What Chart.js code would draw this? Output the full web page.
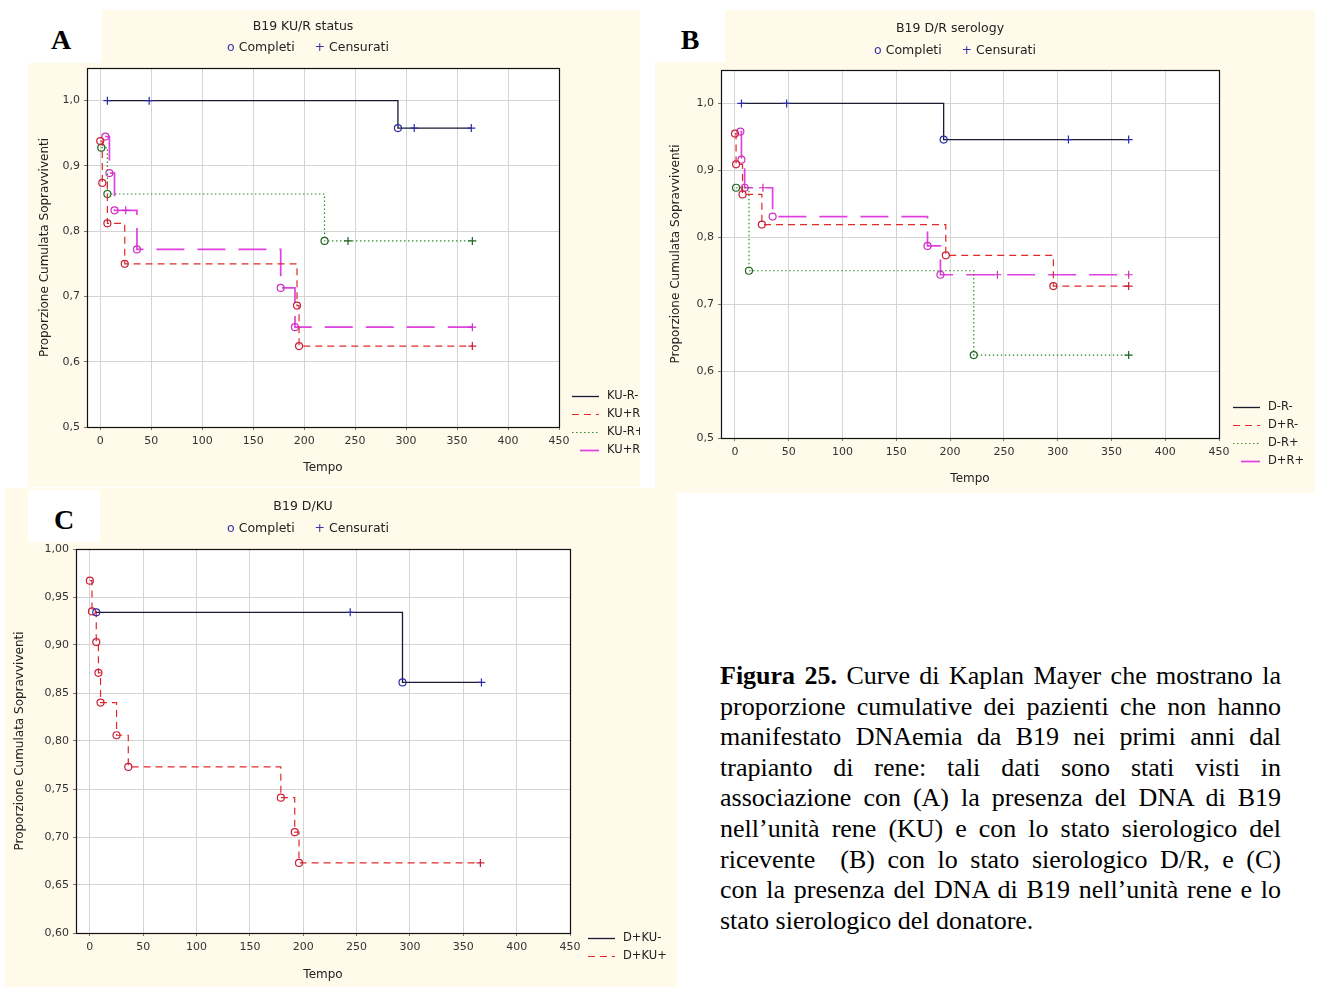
<!DOCTYPE html>
<html>
<head>
<meta charset="utf-8">
<script src="https://cdn.jsdelivr.net/npm/chart.js@4.4.1/dist/chart.umd.min.js"></script>
<style>
  body { margin: 0; background: #fff; width: 1318px; height: 987px; position: relative; overflow: hidden; }
  .panel { position: absolute; background: #fffaea; overflow: hidden; }
  .panel canvas { position: absolute; left: 0; top: 0; }
  .letter { position: absolute; background: #fff; font: bold 28px 'Liberation Serif', serif; color: #000; text-align: center; line-height: 60px; }
  .caption { position: absolute; left: 720px; top: 661px; width: 561px; font: 26px 'Liberation Serif', serif; color: #000; }
  .caption div { height: 30.6px; line-height: 30.6px; text-align: justify; text-align-last: justify; white-space: nowrap; }
  .caption div.last { text-align-last: left; }
</style>
</head>
<body>
<div class="panel" style="left:28px;top:10px;width:612px;height:477px"><canvas id="chart-a" width="612" height="477"></canvas></div>
<div class="panel" style="left:655px;top:10px;width:660px;height:483px"><canvas id="chart-b" width="660" height="483"></canvas></div>
<div class="panel" style="left:5px;top:488px;width:672px;height:499px"><canvas id="chart-c" width="672" height="499"></canvas></div>

<div class="letter" style="left:20px;top:10px;width:82px;height:53px">A</div>
<div class="letter" style="left:655px;top:10px;width:70px;height:52px">B</div>
<div class="letter" style="left:28px;top:490px;width:72px;height:52px">C</div>

<div class="caption">
  <div><b>Figura 25.</b> Curve di Kaplan Mayer che mostrano la</div>
  <div>proporzione cumulative dei pazienti che non hanno</div>
  <div>manifestato DNAemia da B19 nei primi anni dal</div>
  <div>trapianto di rene: tali dati sono stati visti in</div>
  <div>associazione con (A) la presenza del DNA di B19</div>
  <div>nell’unità rene (KU) e con lo stato sierologico del</div>
  <div>ricevente &nbsp;(B) con lo stato sierologico D/R, e (C)</div>
  <div>con la presenza del DNA di B19 nell’unità rene e lo</div>
  <div class="last">stato sierologico del donatore.</div>
</div>

<script>
// axis ticks
const xTicks = [0, 50, 100, 150, 200, 250, 300, 350, 400, 450];
const yTicksAB = [0.5, 0.6, 0.7, 0.8, 0.9, 1.0];
const yTicksC = [0.6, 0.65, 0.7, 0.75, 0.8, 0.85, 0.9, 0.95, 1.0];

// status: 1 = completo (o), 0 = censurato (+)

// A - B19 KU/R status
const labelsA = ['KU-R-', 'KU+R-', 'KU-R+', 'KU+R+'];
const timeA1 = [7, 48, 292, 308, 364];
const survA1 = [1, 1, 0.958, 0.958, 0.958];
const statA1 = [0, 0, 1, 0, 0];
const timeA2 = [0, 2, 7, 24, 193, 195, 365];
const survA2 = [0.938, 0.874, 0.812, 0.750, 0.686, 0.624, 0.624];
const statA2 = [1, 1, 1, 1, 1, 1, 0];
const timeA3 = [1, 7, 220, 243, 365];
const survA3 = [0.928, 0.857, 0.785, 0.785, 0.785];
const statA3 = [1, 1, 1, 0, 0];
const timeA4 = [5, 9, 14, 25, 36, 177, 191, 365];
const survA4 = [0.945, 0.889, 0.832, 0.832, 0.772, 0.713, 0.653, 0.653];
const statA4 = [1, 1, 1, 0, 1, 1, 1, 0];

// B - B19 D/R serology
const labelsB = ['D-R-', 'D+R-', 'D-R+', 'D+R+'];
const timeB1 = [6, 48, 194, 310, 366];
const survB1 = [1, 1, 0.946, 0.946, 0.946];
const statB1 = [0, 0, 1, 0, 0];
const timeB2 = [0, 1, 7, 25, 196, 296, 366];
const survB2 = [0.955, 0.909, 0.864, 0.819, 0.773, 0.727, 0.727];
const statB2 = [1, 1, 1, 1, 1, 1, 0];
const timeB3 = [1, 13, 222, 366];
const survB3 = [0.874, 0.750, 0.624, 0.624];
const statB3 = [1, 1, 1, 0];
const timeB4 = [5, 6, 9, 26, 35, 179, 191, 244, 366];
const survB4 = [0.958, 0.916, 0.874, 0.874, 0.831, 0.787, 0.744, 0.744, 0.744];
const statB4 = [1, 1, 1, 0, 1, 1, 1, 0, 0];

// C - B19 D/KU
const labelsC = ['D+KU-', 'D+KU+'];
const timeC1 = [6, 244, 293, 367];
const survC1 = [0.934, 0.934, 0.861, 0.861];
const statC1 = [1, 0, 1, 0];
const timeC2 = [0, 2, 6, 8, 10, 25, 36, 179, 192, 196, 366];
const survC2 = [0.967, 0.935, 0.903, 0.871, 0.840, 0.806, 0.773, 0.741, 0.705, 0.673, 0.673];
const statC2 = [1, 1, 1, 1, 1, 1, 1, 1, 1, 1, 0];

// line styles
const solidStyle = { line: '#1a1a30', mark: '#2c2ca8', dash: [], width: 1.3 };
const dashStyle = { line: '#e02a2a', mark: '#c8203c', dash: [7, 5], width: 1.2 };
const dotStyle = { line: '#2a8a2a', mark: '#1e641e', dash: [1.5, 2.5], width: 1.2 };
const longStyle = { line: '#e040e0', mark: '#cc30c0', dash: [28, 13], width: 1.7 };

const fontFamily = "'DejaVu Sans', sans-serif";
Chart.defaults.font.family = fontFamily;
Chart.defaults.font.size = 11;
Chart.defaults.color = '#222';

function makeSeries(label, times, surv, status, style) {
  return {
    label: label,
    data: times.map((t, i) => ({ x: t, y: surv[i] })),
    stepped: 'before',
    borderColor: style.line,
    borderWidth: style.width,
    borderDash: style.dash,
    pointStyle: status.map(s => s ? 'circle' : 'cross'),
    pointRadius: status.map(s => s ? 3.5 : 4),
    pointBorderColor: style.mark,
    pointBackgroundColor: 'rgba(0,0,0,0)',
    pointBorderWidth: 1.2,
    fill: false,
    tension: 0
  };
}

// white plot box, frame, title line, Completi/Censurati key and series legend
const framePlugin = {
  id: 'frame',
  beforeDraw(chart) {
    const a = chart.chartArea;
    const ctx = chart.ctx;
    ctx.save();
    ctx.fillStyle = '#ffffff';
    ctx.fillRect(a.left, a.top, a.right - a.left, a.bottom - a.top);
    ctx.restore();
  },
  afterDraw(chart, args, opts) {
    const a = chart.chartArea;
    const ctx = chart.ctx;
    const cx = (a.left + a.right) / 2;
    ctx.save();
    ctx.strokeStyle = '#111';
    ctx.lineWidth = 1.2;
    ctx.strokeRect(Math.round(a.left) + 0.5, Math.round(a.top) + 0.5, Math.round(a.right - a.left), Math.round(a.bottom - a.top));

    ctx.font = '12.5px ' + fontFamily;
    ctx.textBaseline = 'middle';
    ctx.textAlign = 'center';
    ctx.fillStyle = '#222';
    ctx.fillText(opts.title, cx - 20, opts.titleY);

    // key for markers
    const parts = [['o', '#3434a8'], [' Completi     ', '#222'], ['+', '#3434a8'], [' Censurati', '#222']];
    const total = parts.reduce((w, p) => w + ctx.measureText(p[0]).width, 0);
    let x = cx - 15 - total / 2;
    ctx.textAlign = 'left';
    parts.forEach(p => {
      ctx.fillStyle = p[1];
      ctx.fillText(p[0], x, opts.keyY);
      x += ctx.measureText(p[0]).width;
    });

    // series legend, bottom right
    ctx.font = '11.5px ' + fontFamily;
    const sets = chart.data.datasets;
    sets.forEach((ds, i) => {
      const y = Math.round(a.bottom + 23 - (sets.length - 1 - i) * 18) + 0.5;
      const x0 = a.right + opts.legendX;
      ctx.strokeStyle = ds.borderColor;
      ctx.lineWidth = ds.borderWidth;
      ctx.setLineDash(ds.borderDash);
      ctx.lineDashOffset = ds.borderDash.length && ds.borderDash[0] > 20 ? -8 : 0;
      ctx.beginPath();
      ctx.moveTo(x0, y);
      ctx.lineTo(x0 + 27, y);
      ctx.stroke();
      ctx.setLineDash([]);
      ctx.fillStyle = '#222';
      ctx.fillText(ds.label, x0 + 35, y);
    });
    ctx.restore();
  }
};

function buildChart(canvasId, datasets, cfg) {
  return new Chart(document.getElementById(canvasId), {
    type: 'line',
    data: { datasets: datasets },
    options: {
      responsive: false,
      animation: false,
      events: [],
      layout: { padding: { left: 0, right: cfg.padRight, top: cfg.padTop, bottom: 0 } },
      scales: {
        x: {
          type: 'linear',
          min: -13,
          max: 450,
          afterBuildTicks: axis => { axis.ticks = xTicks.map(v => ({ value: v })); },
          afterFit: axis => { axis.height = cfg.xHeight; },
          grid: { color: '#d4d4d4', tickLength: 3, tickColor: '#777' },
          border: { display: false },
          ticks: { padding: 5, color: '#333', maxRotation: 0, callback: v => String(v) },
          title: { display: true, text: 'Tempo', color: '#222', font: { size: 12 }, padding: { top: 0, bottom: cfg.xTitlePad } }
        },
        y: {
          min: cfg.yMin,
          max: cfg.yMax,
          afterBuildTicks: axis => { axis.ticks = cfg.yTicks.map(v => ({ value: v })); },
          afterFit: axis => { axis.width = cfg.yWidth; },
          grid: { color: '#d4d4d4', tickLength: 3, tickColor: '#777' },
          border: { display: false },
          ticks: { padding: 4, color: '#333', callback: v => v.toFixed(cfg.dec).replace('.', ',') },
          title: { display: true, text: 'Proporzione Cumulata Sopravviventi', color: '#222', font: { size: 12 }, padding: { top: cfg.yTitlePad, bottom: 0 } }
        }
      },
      plugins: {
        legend: { display: false },
        tooltip: { enabled: false },
        frame: { title: cfg.title, titleY: cfg.titleY, keyY: cfg.keyY, legendX: cfg.legendX }
      }
    },
    plugins: [framePlugin]
  });
}

document.addEventListener('DOMContentLoaded', () => {
  buildChart('chart-a', [
    makeSeries(labelsA[0], timeA1, survA1, statA1, solidStyle),
    makeSeries(labelsA[1], timeA2, survA2, statA2, dashStyle),
    makeSeries(labelsA[2], timeA3, survA3, statA3, dotStyle),
    makeSeries(labelsA[3], timeA4, survA4, statA4, longStyle)
  ], {
    title: 'B19 KU/R status', titleY: 17, keyY: 38,
    padTop: 58, padRight: 81, xHeight: 60, yWidth: 59,
    xTitlePad: 12, yTitlePad: 10, legendX: 13,
    yMin: 0.5, yMax: 1.05, yTicks: yTicksAB, dec: 1
  });

  buildChart('chart-b', [
    makeSeries(labelsB[0], timeB1, survB1, statB1, solidStyle),
    makeSeries(labelsB[1], timeB2, survB2, statB2, dashStyle),
    makeSeries(labelsB[2], timeB3, survB3, statB3, dotStyle),
    makeSeries(labelsB[3], timeB4, survB4, statB4, longStyle)
  ], {
    title: 'B19 D/R serology', titleY: 19, keyY: 41,
    padTop: 60, padRight: 96, xHeight: 55, yWidth: 66,
    xTitlePad: 7, yTitlePad: 14, legendX: 14,
    yMin: 0.5, yMax: 1.05, yTicks: yTicksAB, dec: 1
  });

  buildChart('chart-c', [
    makeSeries(labelsC[0], timeC1, survC1, statC1, solidStyle),
    makeSeries(labelsC[1], timeC2, survC2, statC2, dashStyle)
  ], {
    title: 'B19 D/KU', titleY: 19, keyY: 41,
    padTop: 61, padRight: 107, xHeight: 54, yWidth: 71,
    xTitlePad: 5, yTitlePad: 8, legendX: 18,
    yMin: 0.6, yMax: 1.0, yTicks: yTicksC, dec: 2
  });
});
</script>
</body>
</html>
